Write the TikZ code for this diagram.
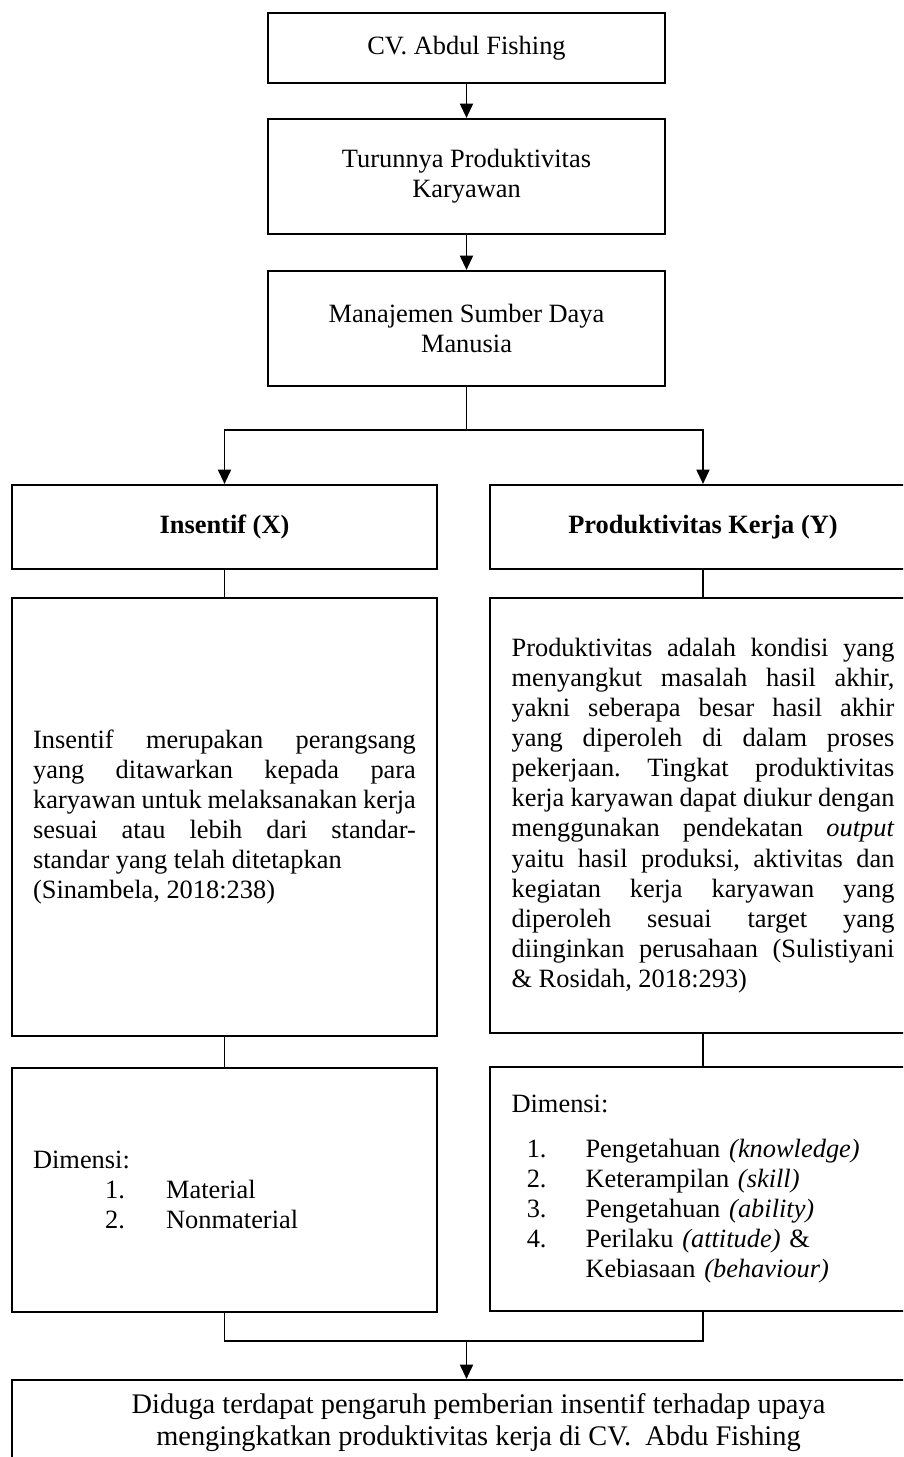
\documentclass[tikz,border=0pt]{standalone}
\usepackage{fontspec}
\setmainfont{Liberation Serif}
\usetikzlibrary{arrows.meta}
\def\PX{0.4545pt}
\frenchspacing
\begin{document}
\begin{tikzpicture}[x=0.4545pt,y=-0.4545pt,
  box/.style={draw, line width=1pt, inner sep=0pt, align=center, font=\fontsize{12}{13.7}\selectfont\frenchspacing},
  body/.style={box, align=justify, text width=174pt},
  conn/.style={line width=0.6pt},
  arr/.style={conn, -{Triangle[length=6.5pt,width=6pt]}}]
\useasboundingbox (0,0) rectangle (903,1457);
\clip (0,0) rectangle (903,1457);
\fill[white] (0,0) rectangle (903,1457);

\node[box, minimum width=397*\PX, minimum height=70*\PX] (b1) at (466.5,48) {CV. Abdul Fishing};
\node[box, minimum width=397*\PX, minimum height=115*\PX] (b2) at (466.5,176.5) {Turunnya Produktivitas\\Karyawan};
\node[box, minimum width=397*\PX, minimum height=115*\PX] (b3) at (466.5,328.5) {Manajemen Sumber Daya\\Manusia};

\node[box, minimum width=425*\PX, minimum height=84*\PX] (x) at (224.5,527) {\textbf{Insentif (X)}};
\node[box, minimum width=426*\PX, minimum height=84*\PX] (y) at (703,527) {\textbf{Produktivitas Kerja (Y)}};

\node[body, minimum width=425*\PX, minimum height=438*\PX] (xt) at (224.5,817) {%
Insentif merupakan perangsang\linebreak
yang ditawarkan kepada para\linebreak
karyawan untuk melaksanakan kerja\linebreak
sesuai atau lebih dari standar-\linebreak
standar yang telah ditetapkan\newline
(Sinambela, 2018:238)};

\node[body, minimum width=426*\PX, minimum height=435*\PX] (yt) at (703,815.5) {%
Produktivitas adalah kondisi yang\linebreak
menyangkut masalah hasil akhir,\linebreak
yakni seberapa besar hasil akhir\linebreak
yang diperoleh di dalam proses\linebreak
pekerjaan. Tingkat produktivitas\linebreak
kerja karyawan dapat diukur dengan\linebreak
menggunakan pendekatan \textit{output}\linebreak
yaitu hasil produksi, aktivitas dan\linebreak
kegiatan kerja karyawan yang\linebreak
diperoleh sesuai target yang\linebreak
diinginkan perusahaan (Sulistiyani\linebreak
\& Rosidah, 2018:293)};

\node[box, align=left, text width=174pt, minimum width=425*\PX, minimum height=244*\PX] (xd) at (224.5,1190) {%
Dimensi:\\
\makebox[41.8pt][r]{1.}\hspace{18.7pt}Material\\
\makebox[41.8pt][r]{2.}\hspace{18.7pt}Nonmaterial};

\node[box, align=left, text width=174pt, minimum width=426*\PX, minimum height=244*\PX] (yd) at (703,1189) {%
Dimensi:\\[6.8pt]
\makebox[15.9pt][r]{1.}\hspace{17.7pt}Pengetahuan \textit{(knowledge)}\\
\makebox[15.9pt][r]{2.}\hspace{17.7pt}Keterampilan \textit{(skill)}\\
\makebox[15.9pt][r]{3.}\hspace{17.7pt}Pengetahuan \textit{(ability)}\\
\makebox[15.9pt][r]{4.}\hspace{17.7pt}Perilaku \textit{(attitude)} \&\\
\hspace*{33.6pt}Kebiasaan \textit{(behaviour)}};

\node[box, minimum width=933*\PX, minimum height=86*\PX, font=\fontsize{12.9}{14.5}\selectfont] (h) at (478.5,1423) {Diduga terdapat pengaruh pemberian insentif terhadap upaya\\mengingkatkan produktivitas kerja di CV.\ \ Abdu Fishing};

\coordinate (split) at (466.5,430);
\coordinate (join) at (466.5,1341);

\draw[arr] (b1.south) -- (b2.north);
\draw[arr] (b2.south) -- (b3.north);
\draw[conn] (b3.south) -- (split);
\draw[arr] (split) -| (x.north);
\draw[arr] (split) -| (y.north);
\draw[conn] (x.south) -- (xt.north);
\draw[conn] (xt.south) -- (xd.north);
\draw[conn] (y.south) -- (yt.north);
\draw[conn] (yt.south) -- (yd.north);
\draw[conn] (xd.south) |- (join) -| (yd.south);
\draw[arr] (join) -- (join |- h.north);
\end{tikzpicture}
\end{document}
